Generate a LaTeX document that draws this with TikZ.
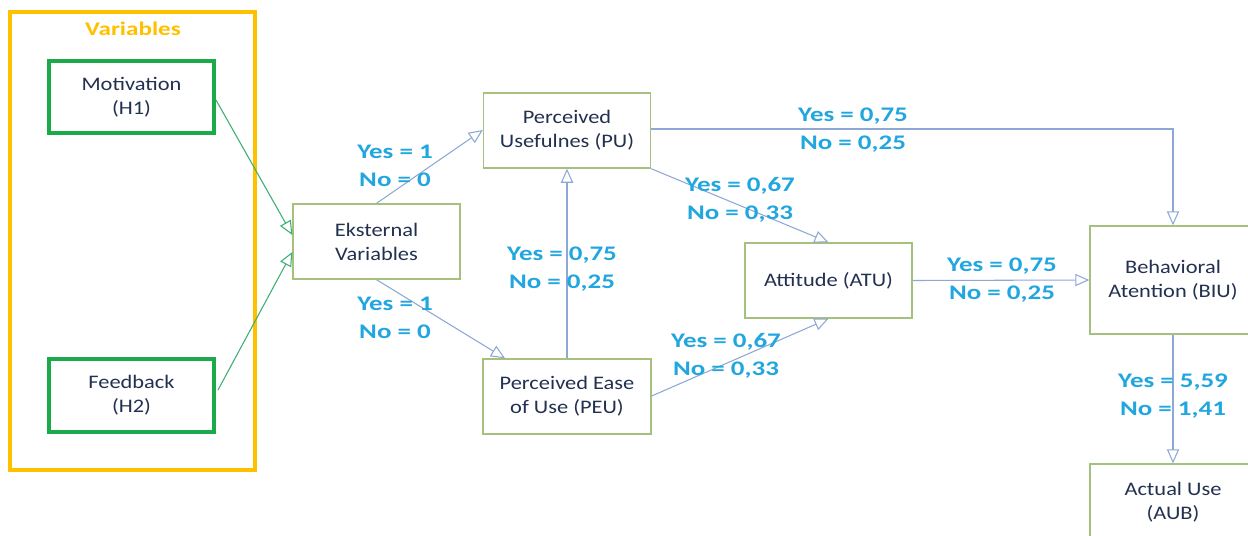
\documentclass[tikz,border=0pt]{standalone}
\usepackage{fontspec}
\setmainfont{Carlito}
\newfontfamily\widetxt[FakeStretch=1.17]{Carlito}
\newfontfamily\widelbl[FakeStretch=1.3]{Carlito}
\usetikzlibrary{arrows.meta}
\definecolor{orangeV}{HTML}{FFC000}
\definecolor{greenV}{HTML}{1AAA4A}
\definecolor{boxgreen}{HTML}{A6C17E}
\definecolor{txt}{HTML}{233150}
\definecolor{lbl}{HTML}{22A6DF}
\definecolor{arr}{HTML}{8EA8D6}
\definecolor{garr}{HTML}{3BAE72}
\tikzset{
  tam/.style={draw=boxgreen, line width=0.8pt, fill=white, text=txt, align=center,
    font=\widetxt\fontsize{10.9}{13.7}\selectfont, inner sep=0pt},
  hyp/.style={draw=greenV, line width=2.3pt, text=txt, align=center,
    font=\widetxt\fontsize{10.9}{13.7}\selectfont, inner sep=0pt},
  lab/.style={text=lbl, align=center, font=\widelbl\bfseries\fontsize{11.8}{15.9}\selectfont, inner sep=0pt},
  conn/.style={draw=arr, line width=0.6pt, -{Triangle[open,length=8pt,width=7pt]}},
  gconn/.style={draw=garr, line width=0.6pt, -{Triangle[open,length=8pt,width=7pt]}}
}
\begin{document}
\begin{tikzpicture}[x=0.02cm,y=-0.02cm]
\useasboundingbox (0,0) rectangle (1248,535);
\fill[white] (0,0) rectangle (1248,535);
% Variables group
\node[draw=orangeV, line width=2.3pt, minimum width=4.9cm, minimum height=9.16cm, inner sep=0pt] (grp) at (132.5,241) {};
\node[text=orangeV, font=\widelbl\bfseries\fontsize{11}{14}\selectfont] (grpt) at (133,29) {Variables};
\node[hyp, minimum width=3.3cm, minimum height=1.44cm] (mot) at (131.5,97) {Motivation\\(H1)};
\node[hyp, minimum width=3.3cm, minimum height=1.46cm] (fb) at (131.5,395.5) {Feedback\\(H2)};
% TAM boxes
\node[tam, minimum width=3.34cm, minimum height=1.5cm] (ek) at (376.5,241.5) {Eksternal\\Variables};
\node[tam, minimum width=3.34cm, minimum height=1.5cm] (pu) at (567,130.5) {Perceived\\Usefulnes (PU)};
\node[tam, minimum width=3.36cm, minimum height=1.5cm] (peu) at (567,396.5) {Perceived Ease\\of Use (PEU)};
\node[tam, minimum width=3.34cm, minimum height=1.5cm] (atu) at (828.5,280.5) {Attitude (ATU)};
\node[tam, minimum width=3.32cm, minimum height=2.16cm] (biu) at (1173,280) {Behavioral\\Atention (BIU)};
\node[tam, minimum width=3.32cm, minimum height=1.52cm] (aub) at (1173,502) {Actual Use\\(AUB)};
% connectors
\coordinate (motout) at (216,100);
\coordinate (fbout) at (218,390);
\draw[gconn] (motout) -- (ek.west |- 0,235);
\draw[gconn] (fbout) -- (ek.west |- 0,252);
\draw[conn] (ek.north) -- (pu.west |- 0,130);
\draw[conn] (ek.south) -- (peu.north west -| 505,0);
\draw[conn] (peu.north) -- (pu.south);
\draw[conn] (pu.south east) -- (atu.north);
\draw[conn] (peu.east |- 0,396) -- (atu.south);
\draw[conn] (pu.east |- 0,129) -| (biu.north);
\draw[conn] (atu.east) -- (biu.west);
\draw[conn] (biu.south) -- (aub.north);
% labels
\node[lab] (l1) at (395,166) {Yes = 1\\No = 0};
\node[lab] (l2) at (395,318) {Yes = 1\\No = 0};
\node[lab] (l3) at (853,130) {Yes = 0,75\\No = 0,25};
\node[lab] (l4) at (740,200) {Yes = 0,67\\No = 0,33};
\node[lab] (l5) at (562,269) {Yes = 0,75\\No = 0,25};
\node[lab] (l6) at (726,355.5) {Yes = 0,67\\No = 0,33};
\node[lab] (l7) at (1002,280.5) {Yes = 0,75\\No = 0,25};
\node[lab] (l8) at (1173,396.5) {Yes = 5,59\\No = 1,41};
\end{tikzpicture}
\end{document}
